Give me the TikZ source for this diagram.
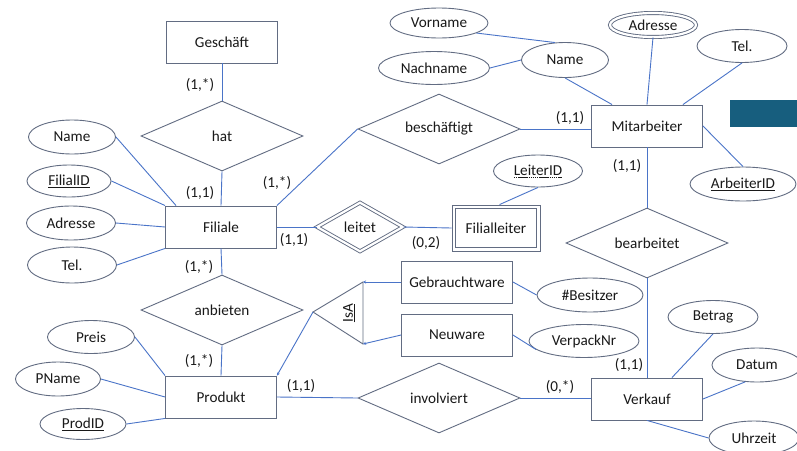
\documentclass[tikz,border=0pt]{standalone}
\usepackage{fontspec}
\setmainfont{Carlito}
\usetikzlibrary{shapes.geometric,arrows.meta,calc}
\definecolor{shapeline}{RGB}{98,108,130}
\definecolor{conn}{RGB}{74,116,200}
\definecolor{txt}{RGB}{25,25,25}
\definecolor{teal}{RGB}{23,94,126}
% dashed underline for a partial key
\newcommand\dashkey[1]{\setbox0\hbox{#1}\leavevmode\rlap{\raisebox{-2.2pt}{\hbox to \wd0{\xleaders\hbox{\rule{1.5pt}{0.5pt}\hspace{0.6pt}}\hfill}}}\box0}
\begin{document}
\begin{tikzpicture}[x=1pt,y=-1pt,
  every node/.style={font=\fontsize{15.2}{18}\selectfont,text=txt,inner sep=0pt},
  entity/.style={draw=shapeline,line width=0.9pt,fill=white,minimum width=111,minimum height=42},
  attr/.style={draw=shapeline,line width=0.9pt,ellipse,fill=white,minimum width=87,minimum height=34},
  rel/.style={draw=shapeline,line width=0.9pt,diamond,aspect=2.3,fill=white,minimum width=162,minimum height=70},
  card/.style={},
  link/.style={draw=conn,line width=0.9pt},
  isaarrow/.style={link,-{Stealth[length=3pt,width=3pt]}},
]
\useasboundingbox[fill=white] (0,0) rectangle (797,450);

% Entities
\node[entity] (ges) at (222,42) {Geschäft};
\node[entity] (fil) at (221,227) {Filiale};
\node[entity] (prod) at (221,397) {Produkt};
\node[entity] (mit) at (647,126) {Mitarbeiter};
\node[entity] (ver) at (647,399) {Verkauf};
\node[entity] (gw) at (457,282) {Gebrauchtware};
\node[entity] (nw) at (457,335) {Neuware};
% weak entity: double frame
\node[entity,minimum width=88,minimum height=46] (fl) at (496,228) {Filialleiter};
\draw[shapeline,line width=0.9pt] ($(fl.north west)+(4,4)$) rectangle ($(fl.south east)+(-4,-4)$);

% Relationships
\node[rel] (hat) at (222,136) {hat};
\node[rel] (anb) at (222,310) {anbieten};
\node[rel] (bes) at (439,129) {beschäftigt};
\node[rel] (bea) at (647,243) {bearbeitet};
\node[rel] (inv) at (439,398) {involviert};
\node[draw=shapeline,line width=0.9pt,diamond,aspect=1.7,fill=white,double=white,double distance=2.2pt,minimum width=86,minimum height=49] (lei) at (360,227) {leitet};

% Attributes of Filiale
\node[attr] (fname) at (72,137) {Name};
\node[attr,minimum width=84,minimum height=32] (fid) at (69,181) {\underline{FilialID}};
\node[attr,minimum width=89] (fadr) at (71,223) {Adresse};
\node[attr,minimum width=89,minimum height=36] (ftel) at (72,265) {Tel.};

% Attributes of Produkt
\node[attr,minimum height=33] (preis) at (91,337) {Preis};
\node[attr,minimum width=85] (pname) at (58,379) {PName};
\node[attr,minimum width=86,minimum height=31] (pid) at (83,424) {\underline{ProdID}};

% Attributes of Mitarbeiter
\node[attr,minimum width=98,minimum height=30] (vn) at (439,23) {Vorname};
\node[attr,minimum width=111,minimum height=33] (nn) at (434,68) {Nachname};
\node[attr,minimum height=35] (mname) at (565,60) {Name};
\node[attr,minimum width=86,minimum height=24,double=white,double distance=2.2pt] (madr) at (653,25) {Adresse};
\node[attr,minimum width=90,minimum height=33] (mtel) at (742,46) {Tel.};
\node[attr,minimum width=106] (aid) at (743,184) {\underline{ArbeiterID}};

% Attribute of Filialleiter
\node[attr,minimum width=89,minimum height=32] (lid) at (538,171) {\dashkey{LeiterID}};

% Attributes of subclasses
\node[attr,minimum width=106] (bes2) at (590,295) {\#Besitzer};
\node[attr,minimum width=110,minimum height=33] (vpn) at (584,341) {VerpackNr};

% Attributes of Verkauf
\node[attr,minimum width=90,minimum height=33] (betr) at (713,317) {Betrag};
\node[attr,minimum width=90] (dat) at (757,365) {Datum};
\node[attr,minimum width=90] (uhr) at (754,438) {Uhrzeit};

% IsA triangle
\coordinate (isaL) at (313,312);
\coordinate (isaT) at (363,282);
\coordinate (isaB) at (363,344);
\draw[shapeline,line width=0.9pt,fill=white] (isaL) -- (isaT) -- (isaB) -- cycle;
\node[rotate=90] (isa) at (349,313) {\underline{IsA}};

% Connectors
\path[link] (ges) -- (hat.north);
\path[link] (hat.south) -- (fil.north);
\path[link] (fil.north east) -- (bes.west);
\path[link] (bes.east) -- (mit.west |- bes.east);
\path[link] (fil.east) -- (lei.west);
\path[link] (lei.east) -- (fl.west);
\path[link] (lid.south) -- ($(fl.north west)+(48,0)$);
\path[link] (fil.south) -- (anb.north);
\path[link] (anb.south) -- (prod.north);
\path[link] (prod.east) -- (inv.west);
\path[link] (inv.east) -- (ver.west |- inv.east);
\path[link] (mit.south) -- (bea.north);
\path[link] (bea.south) -- (ver.north);

\path[link] (fname.east) -- ($(fil.north west)+(11,0)$);
\path[link] (fid.east) -- (fil.north west);
\path[link] (fadr.east) -- (fil.west);
\path[link] (ftel.east) -- (fil.south west);

\path[link] (preis.east) -- (prod.north west);
\path[link] (pname.east) -- (prod.west);
\path[link] (pid.east) -- (prod.south west);

\path[link] (vn.-15) -- (mname.120);
\path[link] (nn.east) -- (mname.west);
\path[link] (mname.south) -- ($(mit.north west)+(21,0)$);
\path[link] (madr.south) -- (mit.north);
\path[link] (mtel.south) -- ($(mit.north east)+(-20,0)$);
\path[link] (mit.east) -- (aid.north);

\path[link] (gw.east) -- (bes2.west);
\path[link] (nw.east) -- (vpn.-170);

\path[link] (betr.south) -- ($(ver.north east)+(-31,0)$);
\path[link] (dat.235) -- (ver.east);
\path[link] (ver.south) -- (uhr.west);

\path[isaarrow] (gw.west) -- (isaT);
\path[isaarrow] (nw.west) -- (isaB);
\path[isaarrow] (isaL) -- (prod.north east);

% Cardinalities
\node[card] (c1) at (200,85) {(1,*)};
\node[card] (c2) at (200,193) {(1,1)};
\node[card] (c3) at (277,183) {(1,*)};
\node[card] (c4) at (294,240) {(1,1)};
\node[card] (c5) at (426,243) {(0,2)};
\node[card] (c6) at (570,118) {(1,1)};
\node[card] (c7) at (627,166) {(1,1)};
\node[card] (c8) at (199,267) {(1,*)};
\node[card] (c9) at (199,361) {(1,*)};
\node[card] (c10) at (301,386) {(1,1)};
\node[card] (c11) at (560,387) {(0,*)};
\node[card] (c12) at (629,365) {(1,1)};

% Decorative bar at the right edge
\fill[teal] (730,100) rectangle (797,127);
\end{tikzpicture}
\end{document}
